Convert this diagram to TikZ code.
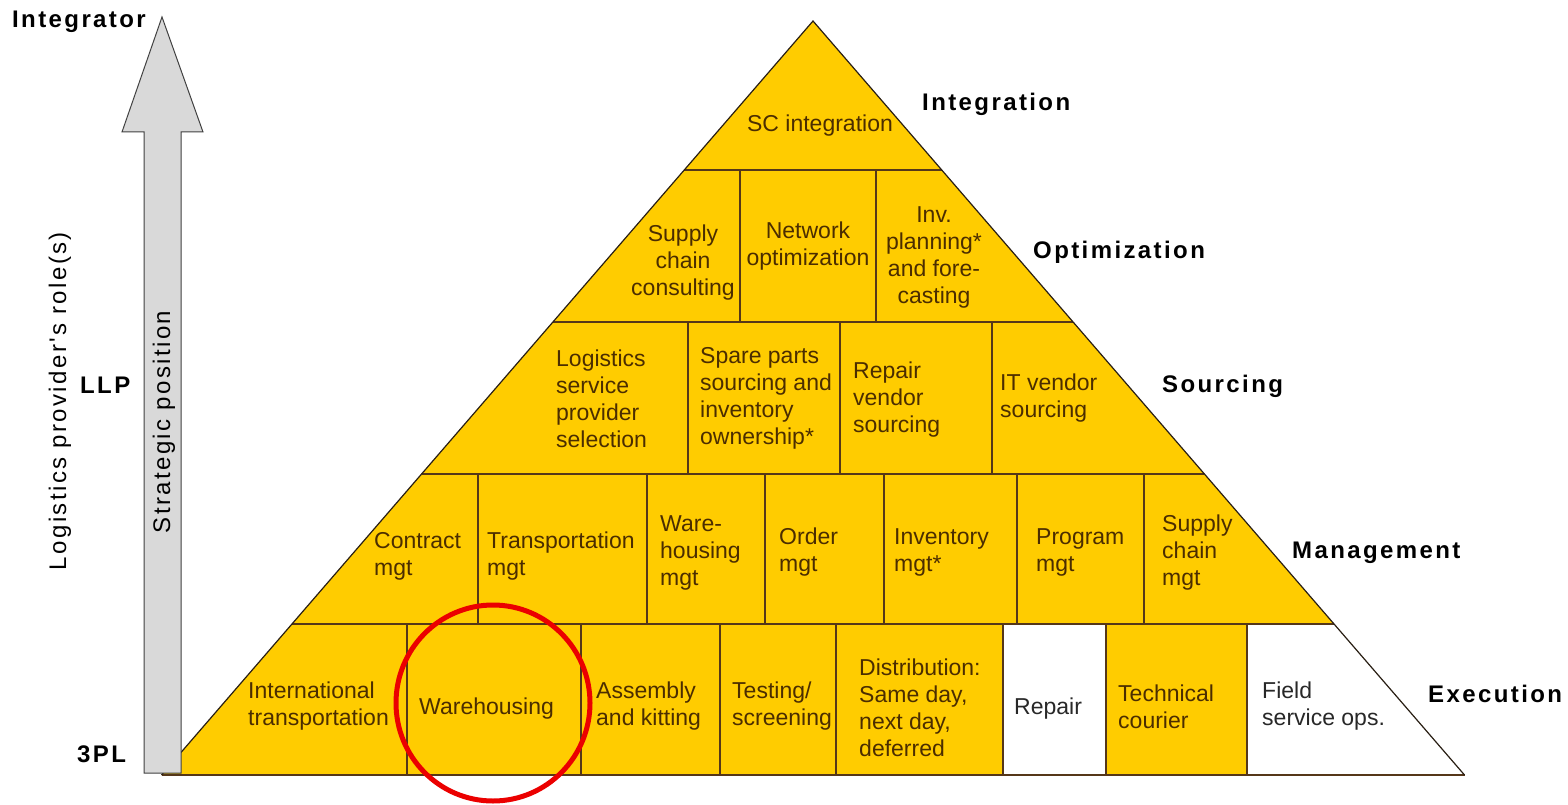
\documentclass[tikz,border=0pt]{standalone}
\usepackage{fontspec}
\setmainfont{Liberation Sans}
\newfontfamily\spacedfont[LetterSpace=10]{Liberation Sans}
\usetikzlibrary{calc}
\definecolor{pyryellow}{RGB}{255,204,0}
\definecolor{cellline}{RGB}{85,55,25}
\definecolor{edgeline}{RGB}{40,30,20}
\definecolor{celltext}{RGB}{75,45,0}
\definecolor{whitetext}{RGB}{40,40,40}
\definecolor{arrowfill}{RGB}{217,217,217}
\definecolor{ringred}{RGB}{235,0,0}
\begin{document}
\begin{tikzpicture}[x=1pt,y=-1pt,
  cell/.style={font=\fontsize{23}{27}\selectfont, text=celltext, inner sep=0pt, align=left, anchor=west, yshift=-2.5pt},
  cellc/.style={cell, align=center, anchor=center},
  wcell/.style={cell, text=whitetext},
  level/.style={font=\spacedfont\bfseries\fontsize{24}{28}\selectfont, text=black, inner sep=0pt, anchor=west, yshift=-2pt},
  role/.style={font=\spacedfont\fontsize{24}{28}\selectfont, text=black, inner sep=0pt, rotate=90},
  divider/.style={draw=cellline, line width=1.5pt},
  outline/.style={draw=edgeline, line width=1.2pt, line join=miter},
  arrowbox/.style={draw=black!75, fill=arrowfill, line width=1pt, line join=miter},
  ring/.style={draw=ringred, line width=5pt}]
\useasboundingbox (0,0) rectangle (1568,805);

% pyramid corners
\coordinate (apex) at (813,21);
\coordinate (bl) at (161.5,775);
\coordinate (br) at (1464.5,775);

% fill
\fill[pyryellow] (apex) -- (bl) -- (br) -- cycle;
% white cells
\fill[white] (1003,624) rectangle (1106,775);
\fill[white] (1247,624) -- (1334,624) -- (br) -- (1247,775) -- cycle;

% row lines
\draw[divider] (684.3,170) -- (941.7,170);
\draw[divider] (552.9,322) -- (1073.1,322);
\draw[divider] (421.6,474) -- (1204.4,474);
\draw[divider] (292.0,624) -- (1334.0,624);
\draw[divider] (bl) -- (br);

% vertical dividers
\foreach \x in {740,876} \draw[divider] (\x,170) -- (\x,322);
\foreach \x in {688,840,992} \draw[divider] (\x,322) -- (\x,474);
\foreach \x in {478,647,765,884,1017,1144} \draw[divider] (\x,474) -- (\x,624);
\foreach \x in {407,581,720,836,1003,1106,1247} \draw[divider] (\x,624) -- (\x,775);

% slanted edges
\draw[outline] (bl) -- (apex) -- (br);

% cell texts
\node[cellc] (scint) at (820,123) {SC integration};

\node[cellc] (scc) at (683,260) {Supply\\chain\\consulting};
\node[cellc] (netopt) at (808,244) {Network\\optimization};
\node[cellc] (invplan) at (934,255) {Inv.\\planning*\\and fore-\\casting};

\node[cell] (lsp) at (556,396) {Logistics\\service\\provider\\selection};
\node[cell] (spare) at (700,396) {Spare parts\\sourcing and\\inventory\\ownership*};
\node[cell] (repvend) at (853,397) {Repair\\vendor\\sourcing};
\node[cell] (itvend) at (1000,396) {IT vendor\\sourcing};

\node[cell] (contract) at (374,554) {Contract\\mgt};
\node[cell] (transmgt) at (487,554) {Transportation\\mgt};
\node[cell] (waremgt) at (660,550) {Ware-\\housing\\mgt};
\node[cell] (order) at (779,550) {Order\\mgt};
\node[cell] (invmgt) at (894,550) {Inventory\\mgt*};
\node[cell] (program) at (1036,550) {Program\\mgt};
\node[cell] (scmgt) at (1162,550) {Supply\\chain\\mgt};

\node[cell] (intl) at (248,704) {International\\transportation};
\node[cell] (wareh) at (419,706) {Warehousing};
\node[cell] (assembly) at (596,704) {Assembly\\and kitting};
\node[cell] (testing) at (732,704) {Testing/\\screening};
\node[cell] (distrib) at (859,705) {Distribution:\\Same day,\\next day,\\deferred};
\node[wcell] (repair) at (1014,706) {Repair};
\node[cell] (courier) at (1118,704) {Technical\\courier};
\node[wcell] (field) at (1262,704) {Field\\service ops.};

% level labels
\node[level] (lint) at (922,102) {Integration};
\node[level] (lopt) at (1033,250) {Optimization};
\node[level] (lsrc) at (1162,384) {Sourcing};
\node[level] (lmgt) at (1292,551) {Management};
\node[level] (lexe) at (1428,692) {Execution};

% arrow
\draw[arrowbox] (144,773) -- (144,132) -- (122,132) -- (162,17) -- (203,132) -- (181,132) -- (181,773) -- cycle;
\node[role] (strat) at (164,422) {Strategic position};

% role labels
\node[role] (roles) at (60,401) {Logistics provider's role(s)};
\node[level] (integrator) at (12,20) {Integrator};
\node[level] (llp) at (80,383) {LLP};
\node[level] (tpl) at (77,752) {3PL};

% red ring
\draw[ring] (493,703) ellipse [x radius=97, y radius=98];
\end{tikzpicture}
\end{document}
